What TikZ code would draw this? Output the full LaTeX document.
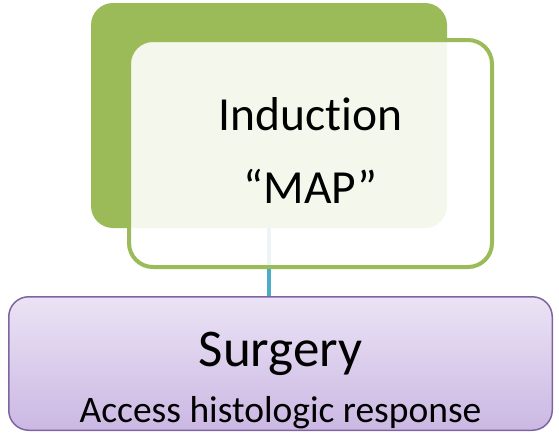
\documentclass[tikz,border=0pt]{standalone}
\usepackage{fontspec}
\setmainfont[Ligatures=NoCommon]{Carlito}
\usetikzlibrary{backgrounds}
\definecolor{leafgreen}{HTML}{9BBB59}
\definecolor{linkblue}{HTML}{4BACC6}
\definecolor{lilacedge}{HTML}{8064A2}
\definecolor{lilactop}{HTML}{EBE3F5}
\definecolor{lilacbottom}{HTML}{CBB8E3}

\begin{document}
\begin{tikzpicture}[x=1pt,y=-1pt,
  backbox/.style={rectangle,rounded corners=22pt,fill=leafgreen,
    minimum width=356pt,minimum height=225pt,inner sep=0pt},
  frontbox/.style={rectangle,rounded corners=24pt,draw=leafgreen,line width=4pt,
    fill=white,fill opacity=0.89,text opacity=1,align=center,
    minimum width=363pt,minimum height=227pt,inner sep=0pt,text depth=6pt,
    font=\fontsize{47.5}{73}\selectfont},
  stagebox/.style={rectangle,rounded corners=20pt,draw=lilacedge,line width=1.5pt,
    top color=lilactop,bottom color=lilacbottom,
    minimum width=543.5pt,minimum height=133.5pt,inner sep=0pt},
  connector/.style={draw=linkblue,line width=4pt}]
\useasboundingbox (0,0) rectangle (559,434);
\node[backbox] (inductionback) at (269,115.5) {};
\node[frontbox] (induction) at (310.5,153.5) {Induction\\“MAP”};
\node[stagebox] (surgery) at (280.5,363.5) {};
\node[align=center,inner sep=0pt,font=\fontsize{37.5}{56}\selectfont] (surgerytext)
  at ([yshift=-17.5pt]surgery.center) {{\fontsize{53}{53}\selectfont Surgery}\\Access histologic response};
\begin{pgfonlayer}{background}
\draw[connector] (inductionback.south) -- (inductionback.south |- surgery.north);
\end{pgfonlayer}
\end{tikzpicture}
\end{document}
